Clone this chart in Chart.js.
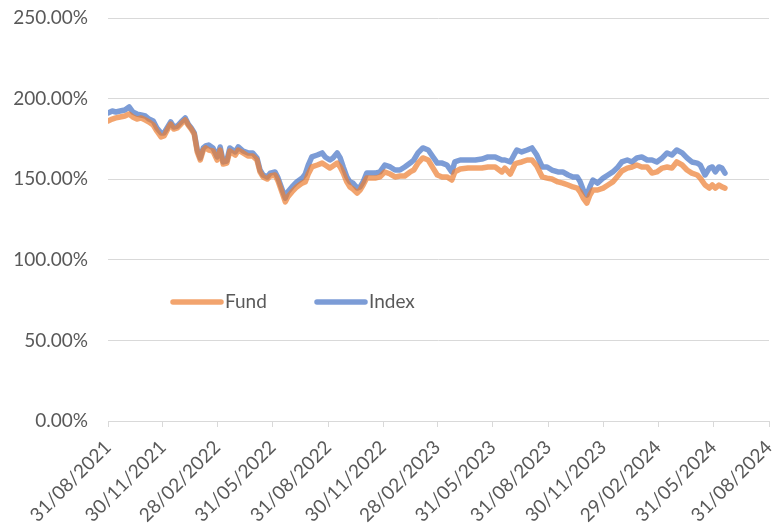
<!DOCTYPE html>
<html>
<head>
<meta charset="utf-8">
<script src="https://cdn.jsdelivr.net/npm/chart.js@4.4.1/dist/chart.umd.min.js"></script>
<style>
  html, body { margin: 0; padding: 0; background: #fff; }
  #wrap { position: relative; width: 777px; height: 525px; }
</style>
</head>
<body>
<div id="wrap"><canvas id="chart"></canvas></div>
<script>
  // values (percent)
  var dates = [
    '2021-08-31', '2021-09-07', '2021-09-13', '2021-09-20', '2021-09-28', '2021-10-05', '2021-10-11', '2021-10-18', '2021-10-25', '2021-11-01',
    '2021-11-07', '2021-11-14', '2021-11-20', '2021-11-27', '2021-12-02', '2021-12-09', '2021-12-13', '2021-12-18', '2021-12-24', '2021-12-30',
    '2022-01-06', '2022-01-11', '2022-01-16', '2022-01-21', '2022-01-26', '2022-01-31', '2022-02-05', '2022-02-09', '2022-02-14', '2022-02-21',
    '2022-02-28', '2022-03-05', '2022-03-10', '2022-03-16', '2022-03-21', '2022-03-30', '2022-04-04', '2022-04-12', '2022-04-20', '2022-04-28',
    '2022-05-05', '2022-05-10', '2022-05-15', '2022-05-22', '2022-05-27', '2022-06-04', '2022-06-09', '2022-06-16', '2022-06-21', '2022-06-25',
    '2022-07-02', '2022-07-10', '2022-07-19', '2022-07-24', '2022-07-29', '2022-08-04', '2022-08-13', '2022-08-21', '2022-08-26', '2022-09-03',
    '2022-09-08', '2022-09-15', '2022-09-20', '2022-09-25', '2022-10-01', '2022-10-06', '2022-10-11', '2022-10-18', '2022-10-23', '2022-10-28',
    '2022-11-03', '2022-11-08', '2022-11-17', '2022-11-25', '2022-12-03', '2022-12-12', '2022-12-20', '2022-12-28', '2023-01-05', '2023-01-14',
    '2023-01-20', '2023-01-27', '2023-02-04', '2023-02-13', '2023-02-21', '2023-02-28', '2023-03-08', '2023-03-16', '2023-03-24', '2023-03-29',
    '2023-04-07', '2023-04-20', '2023-05-02', '2023-05-13', '2023-05-23', '2023-06-04', '2023-06-15', '2023-06-20', '2023-06-29', '2023-07-07',
    '2023-07-10', '2023-07-18', '2023-07-27', '2023-08-04', '2023-08-12', '2023-08-21', '2023-08-29', '2023-09-06', '2023-09-16', '2023-09-24',
    '2023-10-03', '2023-10-11', '2023-10-18', '2023-10-23', '2023-10-28', '2023-11-03', '2023-11-08', '2023-11-13', '2023-11-21', '2023-11-30',
    '2023-12-08', '2023-12-16', '2023-12-23', '2023-12-31', '2024-01-09', '2024-01-17', '2024-01-25', '2024-02-02', '2024-02-11', '2024-02-19',
    '2024-02-27', '2024-03-07', '2024-03-15', '2024-03-23', '2024-03-31', '2024-04-09', '2024-04-17', '2024-04-25', '2024-05-04', '2024-05-09',
    '2024-05-17', '2024-05-24', '2024-05-29', '2024-06-03', '2024-06-09', '2024-06-14', '2024-06-19'
  ];

  var fund = [
    186.1, 187.3, 188.0, 188.6, 189.2, 190.4, 188.6, 187.3, 188.0, 186.7,
    185.5, 183.6, 179.9, 176.2, 176.8, 181.8, 184.2, 181.1, 181.8, 184.2,
    186.7, 183.6, 181.1, 178.0, 166.9, 161.9, 168.1, 169.4, 168.1, 167.5,
    161.9, 168.1, 159.4, 160.0, 167.5, 165.0, 168.1, 166.3, 164.4, 164.4,
    161.9, 154.5, 151.4, 150.1, 152.0, 152.6, 148.9, 141.4, 135.9, 139.0,
    142.1, 145.2, 147.6, 148.3, 153.2, 157.6, 158.8, 160.0, 158.8, 156.9,
    158.2, 160.0, 157.6, 153.8, 148.3, 145.2, 143.9, 141.4, 143.3, 146.4,
    150.7, 150.7, 150.7, 151.4, 154.5, 153.2, 151.4, 152.0, 152.0, 154.5,
    155.7, 160.0, 163.2, 161.9, 156.9, 152.6, 151.4, 151.4, 149.5, 154.5,
    156.3, 156.9, 156.9, 156.9, 157.6, 157.6, 154.5, 156.9, 153.2, 159.4,
    160.0, 160.7, 161.9, 161.9, 158.2, 151.4, 150.7, 150.1, 148.3, 147.6,
    146.4, 145.2, 144.5, 142.1, 138.3, 135.2, 140.2, 143.3, 143.3, 144.5,
    146.4, 148.3, 151.4, 155.1, 156.9, 157.6, 158.8, 157.6, 157.6, 153.8,
    154.5, 156.9, 157.6, 156.9, 160.7, 158.8, 155.7, 153.8, 152.6, 150.7,
    146.4, 144.5, 146.4, 144.5, 146.4, 145.2, 144.5
  ];

  var index = [
    191.1, 192.3, 191.7, 192.3, 192.9, 194.8, 191.7, 190.4, 189.8, 189.2,
    187.3, 186.1, 181.8, 178.7, 178.7, 183.0, 185.5, 182.4, 183.0, 185.5,
    188.0, 184.2, 181.8, 178.7, 168.1, 163.2, 169.4, 170.6, 171.2, 169.4,
    163.8, 170.0, 160.7, 161.3, 169.4, 166.9, 170.0, 167.5, 166.3, 166.3,
    163.2, 155.7, 152.6, 151.4, 153.8, 154.5, 150.7, 143.3, 138.3, 142.1,
    145.2, 148.3, 150.7, 153.2, 158.8, 163.8, 165.0, 166.3, 163.8, 161.9,
    163.2, 166.3, 163.2, 157.6, 151.4, 148.3, 147.6, 144.5, 145.2, 148.3,
    153.8, 153.8, 153.8, 154.5, 158.8, 157.6, 155.7, 155.7, 157.6, 160.0,
    161.9, 166.3, 169.4, 168.1, 163.8, 160.0, 160.0, 158.8, 154.5, 160.7,
    161.9, 161.9, 161.9, 162.5, 163.8, 163.8, 161.9, 161.9, 160.7, 166.3,
    168.1, 166.9, 168.1, 169.4, 165.0, 157.6, 157.6, 155.7, 154.5, 154.5,
    152.6, 151.4, 151.4, 148.3, 143.3, 140.2, 145.2, 149.5, 147.6, 150.7,
    152.6, 154.5, 156.9, 160.7, 161.9, 160.7, 163.2, 163.8, 161.9, 161.9,
    160.7, 163.2, 166.3, 165.0, 168.1, 166.3, 163.2, 160.7, 160.0, 158.8,
    152.6, 156.9, 157.6, 154.5, 157.6, 156.9, 153.8
  ];

  var tickLabels = [
    '31/08/2021', '30/11/2021', '28/02/2022', '31/05/2022', '31/08/2022', '30/11/2022', '28/02/2023',
    '31/05/2023', '31/08/2023', '30/11/2023', '29/02/2024', '31/05/2024', '31/08/2024'
  ];

  var yTicks = [0, 50, 100, 150, 200, 250];

  var TEXT = '#595959';
  var GRID = '#d9d9d9';
  var FONT = 'Lato, "Open Sans", sans-serif';
  var FUND_COLOR = 'rgba(237,125,49,0.7)';
  var INDEX_COLOR = 'rgba(68,114,196,0.7)';

  var DAY = 86400000;
  var START = Date.UTC(2021, 7, 31);

  function isoDay(s) {
    var p = s.split('-');
    return (Date.UTC(+p[0], +p[1] - 1, +p[2]) - START) / DAY;
  }
  function labelDay(s) {
    var p = s.split('/');
    return (Date.UTC(+p[2], +p[1] - 1, +p[0]) - START) / DAY;
  }

  var tickDays = tickLabels.map(labelDay);

  function series(vals) {
    return vals.map(function (v, i) { return { x: isoDay(dates[i]), y: v }; });
  }

  var innerLegend = {
    id: 'innerLegend',
    afterDraw: function (chart) {
      var ctx = chart.ctx;
      var items = [
        { ds: chart.data.datasets[0], x: 173 },
        { ds: chart.data.datasets[1], x: 317 }
      ];
      ctx.save();
      ctx.font = '19px ' + FONT;
      ctx.textBaseline = 'middle';
      ctx.textAlign = 'left';
      items.forEach(function (it) {
        var y = 302;
        ctx.strokeStyle = it.ds.borderColor;
        ctx.lineWidth = 5.5;
        ctx.lineCap = 'round';
        ctx.beginPath();
        ctx.moveTo(it.x, y);
        ctx.lineTo(it.x + 48, y);
        ctx.stroke();
        ctx.fillStyle = TEXT;
        ctx.fillText(it.ds.label, it.x + 52, y);
      });
      ctx.restore();
    }
  };

  new Chart(document.getElementById('chart'), {
    type: 'line',
    data: {
      datasets: [{
        label: 'Fund',
        data: series(fund),
        borderColor: FUND_COLOR,
        borderWidth: 5.5,
        pointRadius: 0,
        tension: 0,
        borderCapStyle: 'round',
        borderJoinStyle: 'round',
        fill: false
      }, {
        label: 'Index',
        data: series(index),
        borderColor: INDEX_COLOR,
        borderWidth: 5.5,
        pointRadius: 0,
        tension: 0,
        borderCapStyle: 'round',
        borderJoinStyle: 'round',
        fill: false
      }]
    },
    options: {
      responsive: true,
      maintainAspectRatio: false,
      animation: false,
      layout: { padding: { left: 0, right: 8, top: 18, bottom: 0 } },
      plugins: {
        legend: { display: false },
        tooltip: { enabled: false }
      },
      scales: {
        x: {
          type: 'linear',
          min: tickDays[0],
          max: tickDays[tickDays.length - 1],
          afterBuildTicks: function (scale) {
            scale.ticks = tickDays.map(function (d) { return { value: d }; });
          },
          afterFit: function (scale) {
            scale.height = 104;
            scale.paddingLeft = 0;
            scale.paddingRight = 0;
          },
          grid: {
            drawOnChartArea: false,
            drawTicks: true,
            tickLength: 6,
            color: GRID
          },
          border: { display: true, color: GRID, width: 1 },
          ticks: {
            autoSkip: false,
            minRotation: 45,
            maxRotation: 45,
            padding: 9,
            color: TEXT,
            font: { family: FONT, size: 19 },
            callback: function (val) {
              var i = tickDays.indexOf(val);
              return i >= 0 ? tickLabels[i] : '';
            }
          }
        },
        y: {
          min: yTicks[0],
          max: yTicks[yTicks.length - 1],
          afterBuildTicks: function (scale) {
            scale.ticks = yTicks.map(function (v) { return { value: v }; });
          },
          afterFit: function (scale) {
            scale.width = 108;
            scale.paddingTop = 0;
            scale.paddingBottom = 0;
          },
          grid: { color: GRID, drawTicks: false, lineWidth: 1 },
          border: { display: false },
          ticks: {
            padding: 20,
            color: TEXT,
            font: { family: FONT, size: 19 },
            callback: function (val) { return val.toFixed(2) + '%'; }
          }
        }
      }
    },
    plugins: [innerLegend]
  });
</script>
</body>
</html>
